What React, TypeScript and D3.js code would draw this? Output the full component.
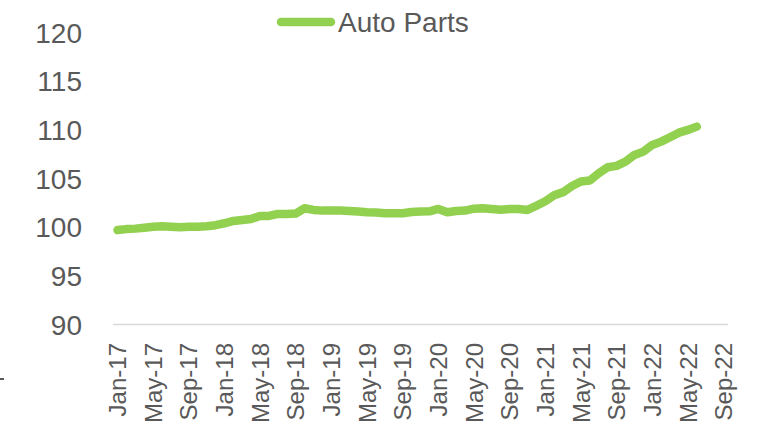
import React from "react";
import * as d3 from "d3";

// monthly categories Jan-17 .. Sep-22
const months = d3.timeMonth.range(new Date(2017, 0, 1), new Date(2022, 9, 1));
const fmt = d3.timeFormat("%b-%y");
const categories = months.map((m) => fmt(m));

// Auto Parts index, Jan-17 .. Jun-22
const autoParts = [
  99.7, 99.8, 99.85, 99.95, 100.05, 100.1, 100.05, 99.99, 100.05, 100.05,
  100.1, 100.2, 100.4, 100.64, 100.74, 100.84, 101.15, 101.15, 101.36, 101.36,
  101.4, 101.94, 101.77, 101.7, 101.7, 101.7, 101.66, 101.6, 101.53, 101.5,
  101.43, 101.43, 101.43, 101.56, 101.6, 101.63, 101.87, 101.53, 101.66, 101.7,
  101.9, 101.94, 101.87, 101.8, 101.87, 101.87, 101.77, 102.2, 102.66, 103.28,
  103.6, 104.23, 104.7, 104.8, 105.54, 106.16, 106.3, 106.73, 107.42, 107.76,
  108.45, 108.79, 109.24, 109.71, 109.99, 110.33,
];

const yTicks = [90, 95, 100, 105, 110, 115, 120];
const seriesName = "Auto Parts";

const W = 764;
const H = 428;
const GREEN = "#92D050";
const TEXT = "#595959";
const FONT = "'Liberation Sans', Arial, sans-serif";

export default function App() {
  const x = d3.scaleBand<string>().domain(categories).range([113, 728]);
  const y = d3.scaleLinear().domain([90, 120]).range([324.5, 32.5]);

  const line = d3
    .line<number>()
    .x((_, i) => (x(categories[i]) as number) + x.bandwidth() / 2)
    .y((d) => y(d));

  const xTicks = categories.filter((_, i) => i % 4 === 0);

  return (
    <svg
      width={W}
      height={H}
      style={{ position: "absolute", left: 0, top: 0, background: "#fff" }}
      fontFamily={FONT}
    >
      {/* y labels */}
      {yTicks.map((t) => (
        <text key={t} x={82} y={y(t) + 10} textAnchor="end" fontSize={28} fill={TEXT}>
          {t}
        </text>
      ))}

      {/* category axis */}
      <line x1={113} x2={728} y1={y(90)} y2={y(90)} stroke="#d9d9d9" strokeWidth={1.5} />
      {xTicks.map((c) => {
        const cx = (x(c) as number) + x.bandwidth() / 2;
        return (
          <text
            key={c}
            transform={`translate(${cx},343) rotate(-90)`}
            dy="0.36em"
            textAnchor="end"
            fontSize={24}
            fill={TEXT}
          >
            {c}
          </text>
        );
      })}

      {/* series */}
      <path
        d={line(autoParts) ?? ""}
        fill="none"
        stroke={GREEN}
        strokeWidth={8.5}
        strokeLinejoin="round"
        strokeLinecap="round"
      />

      {/* legend */}
      <line x1={281} x2={331} y1={22} y2={22} stroke={GREEN} strokeWidth={8.5} strokeLinecap="round" />
      <text x={338} y={32} fontSize={28} fill={TEXT}>
        {seriesName}
      </text>

      {/* stray edge mark */}
      <line x1={0} x2={4} y1={379} y2={379} stroke={TEXT} strokeWidth={2} />
    </svg>
  );
}
